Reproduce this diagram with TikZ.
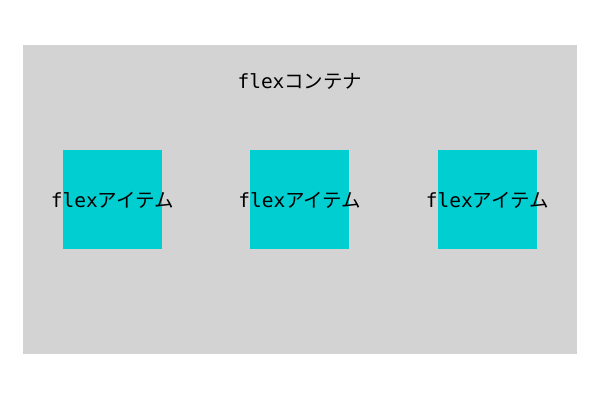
\documentclass[tikz,border=0pt]{standalone}
\usepackage{fontspec}
\setmonofont{DejaVu Sans Mono}
\newfontfamily\jpfont{Noto Sans CJK JP}
\usetikzlibrary{positioning}
\definecolor{boxgray}{HTML}{D3D3D3}
\definecolor{itemcyan}{HTML}{00CED1}
\tikzset{
  container/.style={fill=boxgray, minimum width=554pt, minimum height=309pt, inner sep=0pt},
  item/.style={fill=itemcyan, minimum size=99pt, inner sep=0pt},
  lbl/.style={inner sep=0pt, font=\fontsize{19.5}{22}\selectfont}
}
\newcommand{\flexlbl}[1]{{\ttfamily flex}{\jpfont #1}}
\begin{document}
\begin{tikzpicture}[x=1pt, y=-1pt]
  \useasboundingbox (0,0) rectangle (600,400);
  \node[container] (box) at (300,199.5) {};
  \node[lbl] (boxname) at (300,81) {\flexlbl{コンテナ}};
  \node[item] (item1) at (112.5,199.5) {};
  \node[item, right=88pt of item1] (item2) {};
  \node[item, right=88pt of item2] (item3) {};
  \node[lbl] at ([yshift=-1pt]item1) {\flexlbl{アイテム}};
  \node[lbl] at ([yshift=-1pt]item2) {\flexlbl{アイテム}};
  \node[lbl] at ([yshift=-1pt]item3) {\flexlbl{アイテム}};
\end{tikzpicture}
\end{document}
